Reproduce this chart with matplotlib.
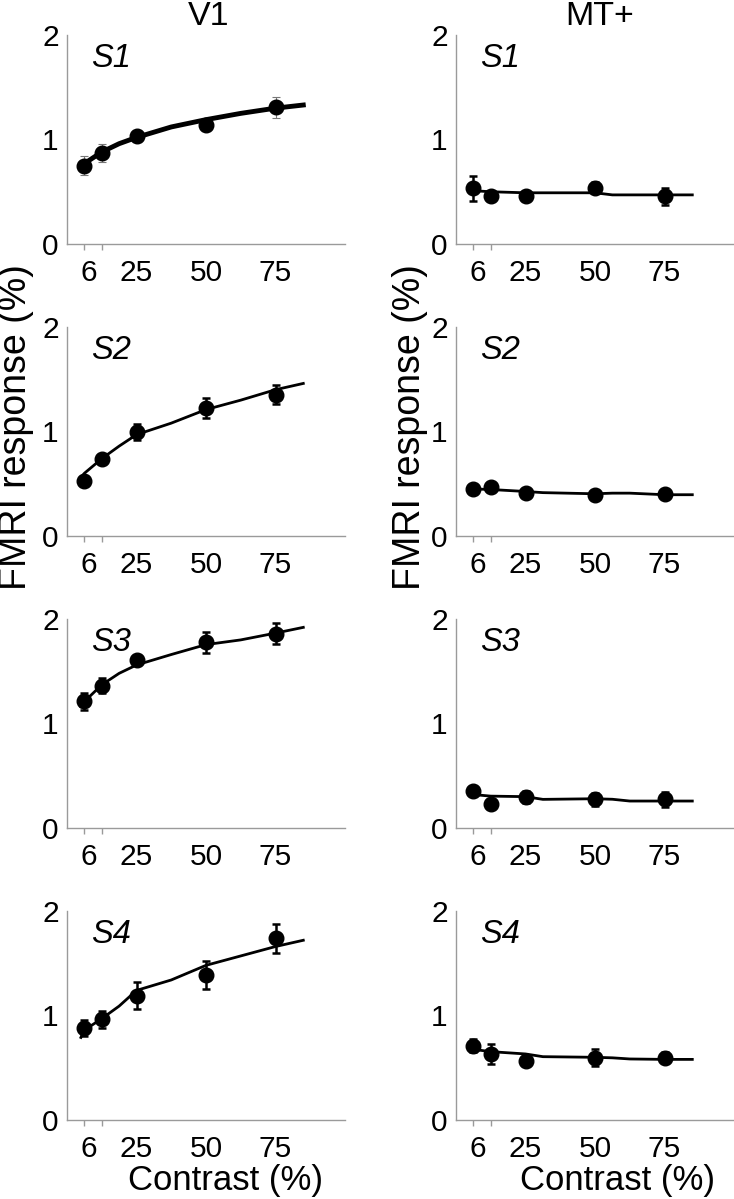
import matplotlib
matplotlib.use("Agg")
import matplotlib.pyplot as plt

plt.rcParams['font.family'] = ['Liberation Sans', 'DejaVu Sans']

# contrast levels (%)
contrast = [6.25, 12.5, 25, 50, 75]
subjects = ['S1', 'S2', 'S3', 'S4']

# V1 data points and error bars
v1_resp = [[0.75, 0.87, 1.03, 1.14, 1.31],
           [0.525, 0.736, 0.995, 1.226, 1.352],
           [1.213, 1.363, 1.61, 1.777, 1.86],
           [0.883, 0.963, 1.19, 1.387, 1.738]]
v1_err = [[0.09, 0.085, 0.055, 0.06, 0.10],
          [0.03, 0.03, 0.08, 0.095, 0.09],
          [0.08, 0.07, 0.03, 0.10, 0.10],
          [0.075, 0.08, 0.13, 0.13, 0.14]]

# MT+ data points and error bars
mt_resp = [[0.535, 0.455, 0.455, 0.54, 0.455],
           [0.446, 0.468, 0.414, 0.395, 0.404],
           [0.353, 0.232, 0.296, 0.274, 0.274],
           [0.711, 0.632, 0.565, 0.597, 0.597]]
mt_err = [[0.12, 0.04, 0.03, 0.05, 0.08],
          [0.03, 0.03, 0.02, 0.02, 0.02],
          [0.05, 0.02, 0.06, 0.065, 0.07],
          [0.065, 0.10, 0.045, 0.08, 0.055]]

# model fit curves
v1_fit_x = [5, 6.25, 12.5, 18.75, 25, 37.5, 50, 62.5, 75, 85]
v1_fit = [[0.74, 0.77, 0.88, 0.96, 1.02, 1.12, 1.19, 1.25, 1.30, 1.33],
          [0.56, 0.60, 0.74, 0.86, 0.97, 1.08, 1.21, 1.30, 1.40, 1.46],
          [1.16, 1.21, 1.37, 1.48, 1.56, 1.66, 1.755, 1.80, 1.865, 1.92],
          [0.79, 0.86, 0.97, 1.09, 1.24, 1.34, 1.48, 1.57, 1.66, 1.72]]
mt_fit_x = [6.25, 12.5, 25, 31.25, 50, 56.25, 62.5, 75, 85]
mt_fit = [[0.51, 0.50, 0.49, 0.49, 0.49, 0.47, 0.47, 0.47, 0.47],
          [0.45, 0.445, 0.426, 0.415, 0.404, 0.41, 0.41, 0.395, 0.395],
          [0.32, 0.305, 0.30, 0.274, 0.28, 0.275, 0.258, 0.258, 0.258],
          [0.676, 0.654, 0.632, 0.606, 0.60, 0.595, 0.584, 0.58, 0.58]]

W, H = 734, 1199
fig = plt.figure(figsize=(W / 100, H / 100), dpi=100)

col_left = [67, 456]
col_w = 278
row_top = [35, 327, 619, 911]
row_h = 209


def style_axis(ax, subj):
    ax.set_xlim(0, 100)
    ax.set_ylim(0, 2)
    for s in ['top', 'right']:
        ax.spines[s].set_visible(False)
    for s in ['left', 'bottom']:
        ax.spines[s].set_color('#9a9a9a')
        ax.spines[s].set_linewidth(1.0)
    ax.set_yticks([0, 1, 2])
    ax.set_yticklabels(['0', '1', '2'])
    ax.tick_params(axis='y', length=0, pad=6, labelsize=21.5)
    ax.set_xticks([8, 25, 50, 75])
    ax.set_xticklabels(['6', '25', '50', '75'])
    ax.set_xticks(contrast, minor=True)
    ax.tick_params(axis='x', which='major', length=0, pad=11, labelsize=21.5)
    ax.tick_params(axis='x', which='minor', length=4, width=1, color='#9a9a9a')
    ax.text(8.5, 1.92, subj, fontsize=23.5, style='italic', va='top', ha='left')


for i, subj in enumerate(subjects):
    top = row_top[i]
    # V1
    ax = fig.add_axes([col_left[0] / W, 1 - (top + row_h) / H, col_w / W, row_h / H])
    style_axis(ax, subj)
    lw_fit = 3.5 if i == 0 else 2.0
    ax.plot(v1_fit_x, v1_fit[i], color='black', lw=lw_fit, zorder=2)
    ecol = '#777777' if i == 0 else 'black'
    elw = 0.8 if i == 0 else 1.8
    ax.errorbar(contrast, v1_resp[i], yerr=v1_err[i], fmt='o', color='black',
                ecolor=ecol, elinewidth=elw, capsize=3, capthick=elw,
                markersize=10.5, zorder=3)
    # MT+
    ax2 = fig.add_axes([col_left[1] / W, 1 - (top + row_h) / H, col_w / W, row_h / H])
    style_axis(ax2, subj)
    ax2.plot(mt_fit_x, mt_fit[i], color='black', lw=2.0, zorder=2)
    ax2.errorbar(contrast, mt_resp[i], yerr=mt_err[i], fmt='o', color='black',
                 ecolor='black', elinewidth=1.8, capsize=3, capthick=1.8,
                 markersize=10.5, zorder=3)

# column titles
fig.text(209 / W, 1 - 25 / H, 'V1', fontsize=24.5, ha='center', va='baseline')
fig.text(600 / W, 1 - 25 / H, 'MT+', fontsize=24.5, ha='center', va='baseline')

# y labels
fig.text(-2 / W, 1 - 427 / H, 'FMRI response (%)', fontsize=27, rotation=90,
         ha='left', va='center')
fig.text(392 / W, 1 - 427 / H, 'FMRI response (%)', fontsize=27, rotation=90,
         ha='left', va='center')

# x labels
fig.text(226 / W, 1 - 1190 / H, 'Contrast (%)', fontsize=25, ha='center', va='baseline')
fig.text(617 / W, 1 - 1190 / H, 'Contrast (%)', fontsize=25, ha='center', va='baseline')

fig.savefig('out.png', dpi=100)
